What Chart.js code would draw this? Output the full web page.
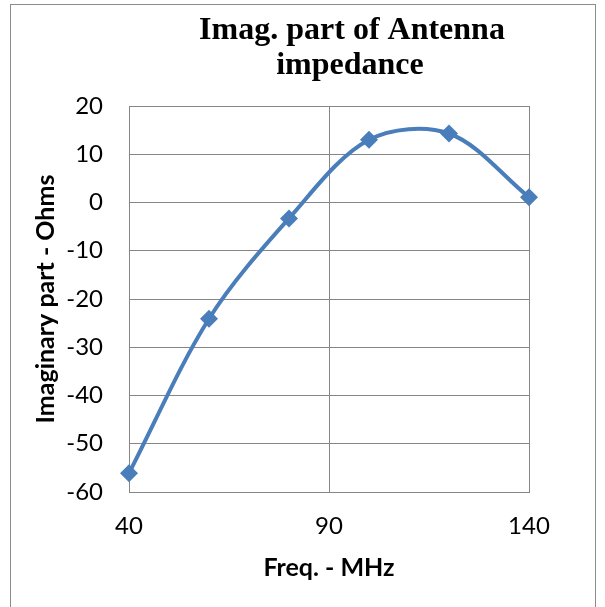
<!DOCTYPE html>
<html>
<head>
<meta charset="utf-8">
<script src="https://cdn.jsdelivr.net/npm/chart.js@4/dist/chart.umd.min.js"></script>
<style>
    html, body { margin: 0; padding: 0; background: #fff; }
    #wrap { width: 605px; height: 607px; position: relative; }
</style>
</head>
<body>
<div id="wrap"><canvas id="impChart" width="605" height="607"></canvas></div>
<script>
// frequency points and measured reactance
var freqMHz = [40, 60, 80, 100, 120, 140];
var imagOhms = [-56.1, -24.1, -3.3, 13, 14.3, 1.1];

var xTicks = [40, 90, 140];
var titleLines = ['Imag. part of Antenna', 'impedance'];

var lineColor = '#4a7ebb';
var gridColor = '#868686';

var points = freqMHz.map(function (f, i) {
    return { x: f, y: imagOhms[i] };
});

// outer frame + two-line heading
var frameAndHeading = {
    id: 'frameAndHeading',
    afterDraw: function (chart) {
        var ctx = chart.ctx;
        ctx.save();
        ctx.strokeStyle = '#8c8c8c';
        ctx.lineWidth = 1;
        ctx.strokeRect(10.5, 4.5, 585, 620);

        ctx.fillStyle = '#000';
        ctx.font = 'bold 32px "Liberation Serif", "Times New Roman", serif';
        ctx.textAlign = 'center';
        ctx.textBaseline = 'alphabetic';
        ctx.fillText(titleLines[0], 352, 39);
        ctx.fillText(titleLines[1], 350, 74);
        ctx.restore();
    }
};

var tickFont = { family: 'Lato, "Open Sans", sans-serif', size: 24 };
var axisTitleFont = { family: 'Lato, "Open Sans", sans-serif', size: 25, weight: 'bold' };

const config = {
    type: 'scatter',
    data: {
        datasets: [{
            data: points,
            showLine: true,
            clip: false,
            borderColor: lineColor,
            backgroundColor: lineColor,
            borderWidth: 4,
            tension: 0.33,
            pointStyle: 'rectRot',
            pointRadius: 9,
            pointHoverRadius: 9,
            pointBorderWidth: 0,
        }]
    },
    options: {
        responsive: false,
        animation: false,
        layout: {
            padding: { top: 106, right: 76, left: 0, bottom: 0 }
        },
        plugins: {
            legend: { display: false },
            tooltip: { enabled: false },
            title: { display: false }
        },
        scales: {
            x: {
                type: 'linear',
                min: 40,
                max: 140,
                afterBuildTicks: function (axis) {
                    axis.ticks = xTicks.map(function (v) { return { value: v }; });
                },
                afterFit: function (axis) { axis.height = 115; },
                grid: { color: gridColor, lineWidth: 1, drawTicks: false },
                border: { color: gridColor, width: 1 },
                ticks: { color: '#000', font: tickFont, padding: 20, maxRotation: 0 },
                title: {
                    display: true,
                    text: 'Freq. - MHz',
                    color: '#000',
                    font: axisTitleFont,
                    padding: { top: 0, bottom: 24 }
                }
            },
            y: {
                min: -60,
                max: 20,
                afterFit: function (axis) { axis.width = 129; },
                grid: { color: gridColor, lineWidth: 1, drawTicks: false },
                border: { color: gridColor, width: 1 },
                ticks: { color: '#000', font: tickFont, padding: 26, stepSize: 10 },
                title: {
                    display: true,
                    text: 'Imaginary part - Ohms',
                    color: '#000',
                    font: axisTitleFont,
                    padding: { top: 31, bottom: 0 }
                }
            }
        }
    },
    plugins: [frameAndHeading]
};

var myChart = new Chart(document.getElementById('impChart'), config);
</script>
</body>
</html>
